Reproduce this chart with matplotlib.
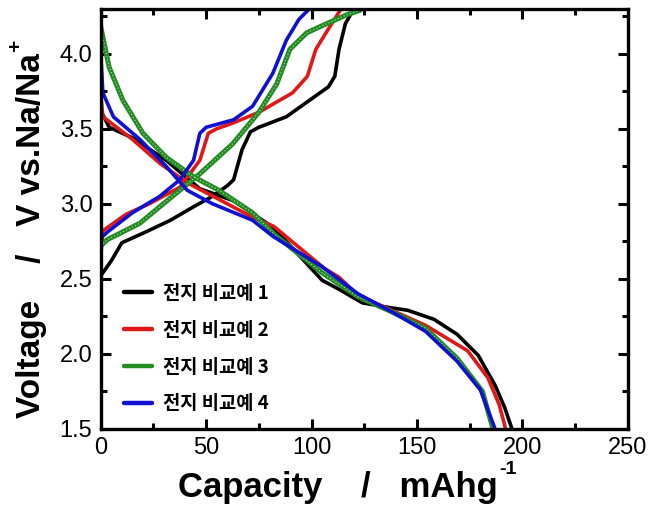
import matplotlib
matplotlib.use("Agg")
import matplotlib.pyplot as plt
from matplotlib.ticker import MultipleLocator
from matplotlib.transforms import IdentityTransform

plt.rcParams['font.family'] = ['Liberation Sans', 'Noto Sans CJK KR', 'DejaVu Sans']

labels = ["전지 비교예 1", "전지 비교예 2", "전지 비교예 3", "전지 비교예 4"]
colors = ["#000000", "#e01818", "#228b22", "#1010d0"]

# charge curves (capacity, voltage)
c1_x = [0, 5, 10, 21, 33, 44, 53, 60, 63, 67, 71, 75, 88, 100, 108, 111, 113, 116, 120]
c1_y = [2.52, 2.62, 2.74, 2.81, 2.89, 2.98, 3.05, 3.12, 3.16, 3.36, 3.48, 3.51, 3.58, 3.70, 3.78, 3.85, 4.03, 4.20, 4.30]
c2_x = [0, 1, 12, 23, 37.5, 47, 51, 55, 63, 75, 91, 98, 102, 108.6, 114]
c2_y = [2.65, 2.82, 2.93, 3.00, 3.11, 3.29, 3.47, 3.50, 3.54, 3.61, 3.74, 3.85, 4.03, 4.18, 4.30]
c3_x = [0, 3, 18.5, 34, 47, 62.6, 75, 83.5, 89.7, 97.7, 107, 116.7, 123]
c3_y = [2.72, 2.76, 2.87, 3.05, 3.20, 3.40, 3.61, 3.80, 4.03, 4.14, 4.20, 4.26, 4.29]
c4_x = [0, 3, 15, 28, 37.5, 44, 47, 50, 63, 72, 81.6, 88, 94, 99]
c4_y = [2.77, 2.81, 2.94, 3.05, 3.16, 3.29, 3.47, 3.51, 3.56, 3.65, 3.87, 4.09, 4.23, 4.30]

# discharge curves (capacity, voltage)
d1_x = [0, 4, 15, 31, 47, 63, 82, 105, 113, 124, 136, 145.6, 158, 169, 179, 187, 191.6, 195]
d1_y = [3.62, 3.51, 3.44, 3.29, 3.10, 3.02, 2.84, 2.49, 2.43, 2.34, 2.31, 2.29, 2.23, 2.13, 1.99, 1.79, 1.64, 1.50]
d2_x = [0, 1, 15, 28, 41, 56, 72, 82, 106, 113, 122, 138, 154, 174, 183.6, 189, 192]
d2_y = [3.72, 3.58, 3.43, 3.27, 3.14, 3.03, 2.91, 2.85, 2.57, 2.51, 2.39, 2.29, 2.19, 2.02, 1.84, 1.66, 1.50]
d3_x = [0, 4, 10.5, 20, 31, 44, 56, 72, 82, 105, 122, 138, 154, 169, 181, 186]
d3_y = [4.18, 3.91, 3.69, 3.47, 3.31, 3.18, 3.09, 2.94, 2.80, 2.54, 2.38, 2.28, 2.17, 1.97, 1.75, 1.50]
d4_x = [0, 1, 6, 18.5, 31, 41, 53, 72, 82, 105, 122, 138, 154, 169, 180, 187]
d4_y = [4.00, 3.74, 3.58, 3.43, 3.25, 3.09, 3.00, 2.89, 2.78, 2.58, 2.40, 2.28, 2.15, 1.95, 1.76, 1.50]

charge = [(c1_x, c1_y), (c2_x, c2_y), (c3_x, c3_y), (c4_x, c4_y)]
discharge = [(d1_x, d1_y), (d2_x, d2_y), (d3_x, d3_y), (d4_x, d4_y)]
widths = [2.6, 2.6, 3.6, 2.6]

fig = plt.figure(figsize=(6.5, 5.16), dpi=100)
ax = fig.add_axes([0.155, 0.169, 0.811, 0.814])

for i in range(4):
    cx, cy = charge[i]
    dx, dy = discharge[i]
    ax.plot(cx, cy, color=colors[i], lw=widths[i], solid_capstyle='round', label=labels[i])
    ax.plot(dx, dy, color=colors[i], lw=widths[i], solid_capstyle='round')
    if i == 2:
        ax.plot(cx, cy, color="#b8e0b0", lw=0.8, ls=(0, (1, 2)))
        ax.plot(dx, dy, color="#b8e0b0", lw=0.8, ls=(0, (1, 2)))

ax.set_xlim(0, 250)
ax.set_ylim(1.5, 4.3)
ax.xaxis.set_major_locator(MultipleLocator(50))
ax.xaxis.set_minor_locator(MultipleLocator(25))
ax.yaxis.set_major_locator(MultipleLocator(0.5))
ax.yaxis.set_minor_locator(MultipleLocator(0.25))
ax.tick_params(which='both', direction='in', top=True, right=True, width=2.2)
ax.tick_params(which='major', length=7, labelsize=17, pad=6)
ax.tick_params(which='minor', length=4)
ax.set_yticks([1.5, 2.0, 2.5, 3.0, 3.5, 4.0])
ax.set_yticklabels(["1.5", "2.0", "2.5", "3.0", "3.5", "4.0"])
for s in ax.spines.values():
    s.set_linewidth(2.4)

leg = ax.legend(loc='upper left', bbox_to_anchor=(0.012, 0.385), frameon=False,
                prop={'family': ['Noto Sans CJK KR'], 'weight': 'bold', 'size': 13.5},
                labelspacing=0.95, handlelength=1.5, handletextpad=0.6)
for h in leg.get_lines():
    h.set_linewidth(3.2)

# axis labels with small superscripts
xl = fig.text(0.274, 0.037, "Capacity    /   mAhg", fontsize=25, fontweight='bold',
              ha='left', va='baseline')
yl = fig.text(0.048, 0.19, "Voltage    /   V vs.Na/Na", fontsize=24, fontweight='bold',
              rotation=90, ha='center', va='bottom')
fig.canvas.draw()
r = fig.canvas.get_renderer()
bx = xl.get_window_extent(r)
by = yl.get_window_extent(r)
fig.text(bx.x1 + 1, bx.y1 - 7, "-1", fontsize=14, fontweight='bold',
         ha='left', va='bottom', transform=IdentityTransform())
fig.text(by.x0 + 9, by.y1 + 1, "+", fontsize=15, fontweight='bold', rotation=90,
         ha='right', va='bottom', transform=IdentityTransform())

fig.savefig("out.png", dpi=100)
